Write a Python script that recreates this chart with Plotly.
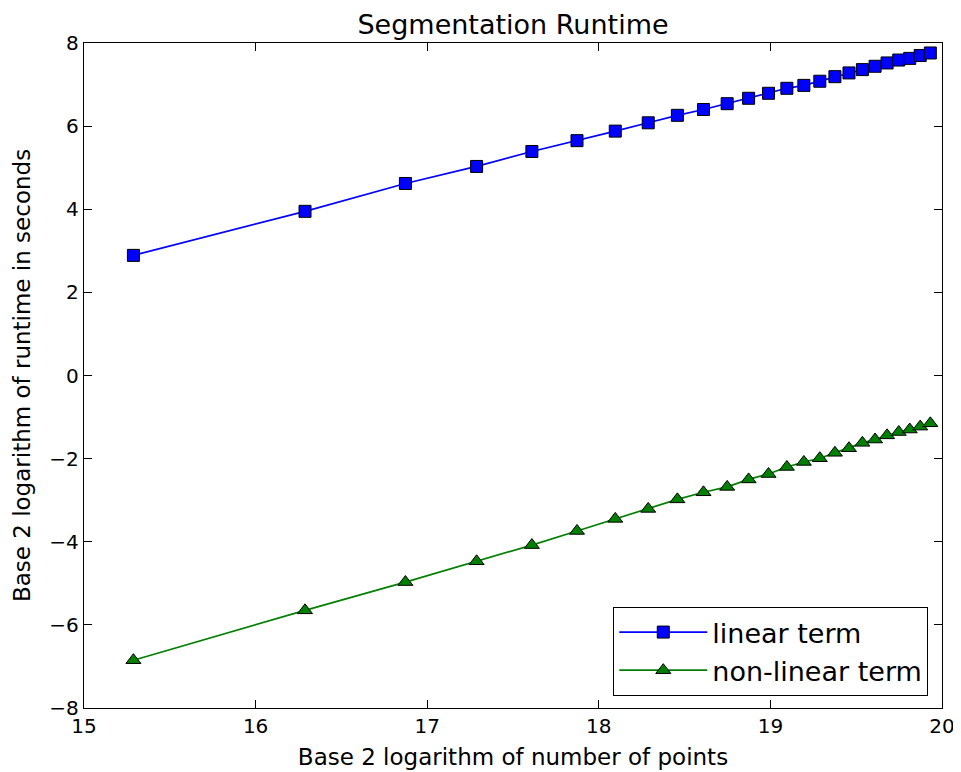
import plotly.graph_objects as go

log2_points = [15.288, 16.288, 16.873, 17.288, 17.610, 17.873, 18.096, 18.288, 18.458,
               18.610, 18.748, 18.873, 18.989, 19.096, 19.195, 19.288, 19.376, 19.458,
               19.536, 19.610, 19.680, 19.748, 19.812, 19.873, 19.932]
linear_term = [2.89, 3.95, 4.62, 5.03, 5.39, 5.65, 5.88, 6.08, 6.26, 6.40, 6.54, 6.67,
               6.79, 6.91, 6.98, 7.08, 7.19, 7.28, 7.36, 7.44, 7.52, 7.59, 7.63, 7.70, 7.76]
nonlinear_term = [-6.85, -5.65, -4.97, -4.47, -4.08, -3.74, -3.45, -3.21, -2.98, -2.81,
                  -2.68, -2.50, -2.37, -2.20, -2.08, -1.99, -1.86, -1.75, -1.62, -1.54,
                  -1.44, -1.36, -1.30, -1.23, -1.15]
x_ticks = [15, 16, 17, 18, 19, 20]
y_ticks = [-8, -6, -4, -2, 0, 2, 4, 6, 8]

FONT = "DejaVu Sans"

fig = go.Figure()
fig.add_trace(go.Scatter(
    x=log2_points, y=linear_term, mode="lines+markers", name="linear term",
    line=dict(color="#0000ff", width=1.7),
    marker=dict(symbol="square", size=12, color="#0000ff", line=dict(color="black", width=1)),
))
fig.add_trace(go.Scatter(
    x=log2_points, y=nonlinear_term, mode="lines+markers", name="non-linear term",
    line=dict(color="#008000", width=1.7),
    marker=dict(symbol="triangle-up", size=13, color="#008000", line=dict(color="black", width=1)),
))

axis_common = dict(
    showline=True, linecolor="black", linewidth=1.3, mirror="ticks",
    ticks="inside", ticklen=8, tickwidth=1, tickcolor="black",
    showgrid=False, zeroline=False, automargin=False,
    tickfont=dict(family=FONT, size=20, color="black"),
)

fig.update_layout(
    width=953, height=764,
    paper_bgcolor="white", plot_bgcolor="white",
    margin=dict(l=76, r=19, t=35, b=64),
    title=dict(text="Segmentation Runtime", x=0.5, xref="paper", xanchor="center",
               y=0.978, yref="container", yanchor="middle",
               font=dict(family=FONT, size=27, color="black")),
    xaxis=dict(range=[15, 20], tickvals=x_ticks,
               title=dict(text="Base 2 logarithm of number of points", standoff=11,
                          font=dict(family=FONT, size=23, color="black")),
               **axis_common),
    yaxis=dict(range=[-8, 8], tickvals=y_ticks,
               title=dict(text="Base 2 logarithm of runtime in seconds", standoff=12,
                          font=dict(family=FONT, size=23, color="black")),
               **axis_common),
    legend=dict(x=0.984, y=0.018, xanchor="right", yanchor="bottom",
                bordercolor="black", borderwidth=1, bgcolor="white",
                font=dict(family=FONT, size=27, color="black"),
                itemwidth=88, tracegroupgap=0),
    showlegend=True,
)

fig.write_html("out.html")
